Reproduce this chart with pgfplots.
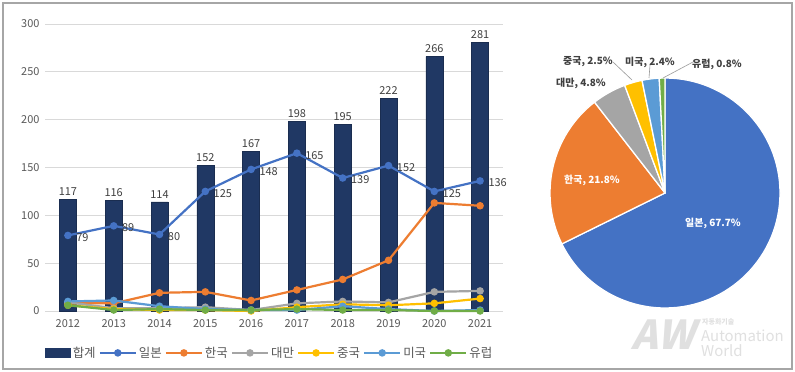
\documentclass[border=0pt]{standalone}
\usepackage{pgfplots}
\usepackage{pgfplotstable}
\pgfplotsset{compat=1.18}
\usepackage{fontspec}
\setmainfont{Noto Sans CJK KR}
\definecolor{cTot}{HTML}{203864}
\definecolor{cJP}{HTML}{4472C4}
\definecolor{cKR}{HTML}{ED7D31}
\definecolor{cTW}{HTML}{A5A5A5}
\definecolor{cCN}{HTML}{FFC000}
\definecolor{cUS}{HTML}{5B9BD5}
\definecolor{cEU}{HTML}{70AD47}
\definecolor{txt}{HTML}{595959}
\definecolor{dtxt}{HTML}{404040}

\pgfplotstableread{
x tot jp kr tw cn us eu
0 117 79 8 9 6 10 6
1 116 89 8 3 2 11 1
2 114 80 19 3 1 5 2
3 152 125 20 4 1 2 1
4 167 148 11 1 0 1 1
5 198 165 22 8 4 1 2
6 195 139 33 10 7 5 1
7 222 152 53 9 6 2 1
8 266 125 113 20 8 0 0
9 281 136 110 21 13 1 0
}\data

\newcommand\slice[3]{\filldraw[fill=#3, draw=white, line width=1.3bp, line join=round] (axis cs:0,0) -- ++(#1:115bp) arc[start angle=#1, delta angle={-3.6*#2}, radius=115bp] -- cycle;}

\begin{document}
\begin{tikzpicture}
\useasboundingbox (0,0) rectangle (795bp,372bp);
\fill[white] (0,0) rectangle (795bp,372bp);
\draw[black!35, line width=1.5bp] (3bp,3bp) rectangle (792bp,369bp);

\begin{axis}[
  at={(45bp,61bp)}, anchor=south west, scale only axis,
  width=458bp, height=287bp,
  xmin=-0.5, xmax=9.5, ymin=0, ymax=300,
  xtick={0,...,9}, xticklabels={2012,2013,2014,2015,2016,2017,2018,2019,2020,2021},
  ytick={0,50,...,300},
  ymajorgrids, grid style={draw=black!15, line width=0.8bp},
  axis line style={draw=none}, major tick length=0,
  tick label style={font=\fontsize{11}{13}\selectfont, text=txt},
  xticklabel style={yshift=-5bp},
  yticklabel style={xshift=-2bp},
  /pgf/number format/assume math mode=true,
  clip=false,
  legend columns=7,
  legend style={at={(0,-0.146)}, anchor=west, draw=none, inner sep=0pt,
    font=\fontsize{12.5}{14}\selectfont, text=txt,
    /tikz/every even column/.append style={column sep=1bp}},
  legend image code/.code={\draw[#1, mark repeat=2, mark phase=2] plot coordinates {(0bp,0bp) (18bp,0bp) (36bp,0bp)};},
  every axis plot/.append style={line width=2.2bp, mark=*, mark size=2.6bp},
]
\addplot[ybar, bar width=17bp, fill=cTot, draw=cTot!80!black, line width=0.6bp, mark=none,
  nodes near coords, nodes near coords style={font=\fontsize{11}{13}\selectfont, text=dtxt},
  legend image code/.code={\fill[cTot] (0bp,-4.5bp) rectangle (25bp,4.5bp);}]
  table[x=x,y=tot]{\data};
\addlegendentry{합계}
\addplot[cJP, mark options={fill=cJP, solid},
  nodes near coords, every node near coord/.append style={anchor=west, xshift=4bp, yshift=-2bp, font=\fontsize{11}{13}\selectfont, text=dtxt}]
  table[x=x,y=jp]{\data};
\addlegendentry{일본}
\addplot[cKR, mark options={fill=cKR}] table[x=x,y=kr]{\data};
\addlegendentry{한국}
\addplot[cTW, mark options={fill=cTW}] table[x=x,y=tw]{\data};
\addlegendentry{대만}
\addplot[cCN, mark options={fill=cCN}] table[x=x,y=cn]{\data};
\addlegendentry{중국}
\addplot[cUS, mark options={fill=cUS}] table[x=x,y=us]{\data};
\addlegendentry{미국}
\addplot[cEU, mark options={fill=cEU}] table[x=x,y=eu]{\data};
\addlegendentry{유럽}
\end{axis}

\begin{axis}[at={(665bp,179bp)}, anchor=center, x=1bp, y=1bp,
  xmin=-120, xmax=120, ymin=-120, ymax=120, hide axis, clip=false]
\slice{90}{67.7}{cJP}
\slice{-153.72}{21.8}{cKR}
\slice{-232.2}{4.8}{cTW}
\slice{-249.48}{2.5}{cCN}
\slice{-258.48}{2.4}{cUS}
\slice{-267.12}{0.8}{cEU}
\draw[black!40, line width=0.6bp] (axis cs:-52,131) -- (axis cs:-33,113);
\draw[black!40, line width=0.6bp] (axis cs:-15,128) -- (axis cs:-16,115);
\draw[black!40, line width=0.6bp] (axis cs:28,131) -- (axis cs:-2,115);
\node[font=\fontsize{10}{12}\selectfont\bfseries, text=white] at (axis cs:48,-30) {일본, 67.7\%};
\node[font=\fontsize{10}{12}\selectfont\bfseries, text=white] at (axis cs:-73,13) {한국, 21.8\%};
\node[font=\fontsize{10}{12}\selectfont\bfseries, text=dtxt] at (axis cs:-84,110) {대만, 4.8\%};
\node[font=\fontsize{10}{12}\selectfont\bfseries, text=dtxt] at (axis cs:-77,131) {중국, 2.5\%};
\node[font=\fontsize{10}{12}\selectfont\bfseries, text=dtxt] at (axis cs:-15,131) {미국, 2.4\%};
\node[font=\fontsize{10}{12}\selectfont\bfseries, text=dtxt] at (axis cs:52,129) {유럽, 0.8\%};
\end{axis}

\node[anchor=east, inner sep=0pt, font=\fontsize{40}{40}\selectfont\bfseries, text=black!12, xslant=0.25] at (699bp,37bp) {AW};
\node[anchor=west, inner sep=0pt, font=\fontsize{7}{8}\selectfont\bfseries, text=black!12] at (702bp,50bp) {자동화기술};
\node[anchor=west, inner sep=0pt, font=\fontsize{15}{16}\selectfont, text=black!12] at (701bp,36bp) {Automation};
\node[anchor=west, inner sep=0pt, font=\fontsize{15}{16}\selectfont, text=black!12] at (701bp,21bp) {World};
\end{tikzpicture}
\end{document}
